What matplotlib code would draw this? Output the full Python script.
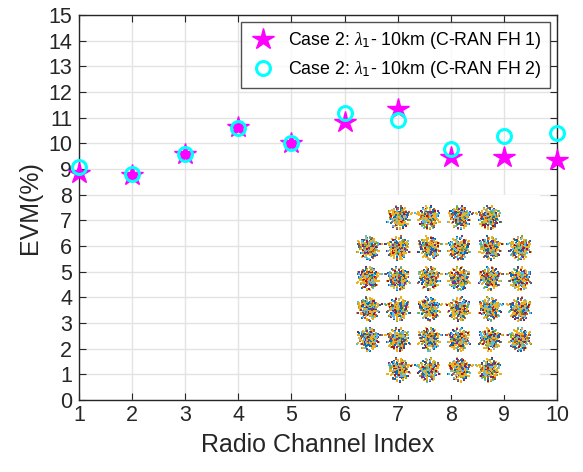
import matplotlib
matplotlib.use("Agg")
import matplotlib.pyplot as plt

plt.rcParams['font.family'] = ['Liberation Sans', 'DejaVu Sans']
plt.rcParams['mathtext.fontset'] = 'custom'
plt.rcParams['mathtext.it'] = 'Liberation Serif:italic'

# data
channels = [1, 2, 3, 4, 5, 6, 7, 8, 9, 10]
evm_fh1 = [8.85, 8.75, 9.6, 10.65, 10.0, 10.85, 11.33, 9.46, 9.48, 9.35]
evm_fh2 = [9.1, 8.8, 9.6, 10.6, 10.0, 11.2, 10.9, 9.8, 10.3, 10.4]
label_fh1 = r'Case 2: $\lambda_1$- 10km (C-RAN FH 1)'
label_fh2 = r'Case 2: $\lambda_1$- 10km (C-RAN FH 2)'

# 32-QAM cross constellation symbol levels
levels = [-5, -3, -1, 1, 3, 5]
# hand-placed scatter of received samples around a symbol
cloud_dx = [0.05, -0.32, 0.41, -0.12, 0.22, -0.48, 0.6, -0.05, 0.3, -0.62,
            0.12, -0.25, 0.5, -0.4, 0.02, 0.35, -0.18, 0.7, -0.7, 0.15,
            -0.08, 0.45, -0.55, 0.27, -0.35, 0.08, 0.58, -0.22, 0.38, -0.6,
            0.2, -0.1, 0.65, -0.45, 0.0, 0.33, -0.3, 0.52, -0.15, 0.1, 0.85]
cloud_dy = [0.1, 0.25, -0.3, -0.45, 0.52, -0.05, 0.18, 0.62, -0.6, 0.3,
            -0.2, -0.1, 0.42, 0.5, -0.35, 0.05, 0.36, -0.15, -0.25, 0.72,
            -0.68, -0.48, 0.12, 0.28, -0.55, 0.4, -0.4, 0.05, 0.6, 0.45,
            -0.05, -0.25, 0.35, -0.3, 0.2, -0.15, 0.55, 0.08, 0.75, -0.72, 0.3]
cloud_colors = ['#EDB120', '#0072BD', '#EDB120', '#4DBEEE', '#D95319',
                '#EDB120', '#7E2F8E', '#0072BD', '#77AC30', '#EDB120',
                '#A2142F', '#4DBEEE', '#EDB120']

fig = plt.figure(figsize=(5.83, 4.72), dpi=100)
ax = fig.add_axes([0.1355, 0.1525, 0.8199, 0.8155])

ax.plot(channels, evm_fh1, linestyle='none', marker='*', color='magenta',
        markersize=16, label=label_fh1, zorder=3, clip_on=False)
ax.plot(channels, evm_fh2, linestyle='none', marker='o', color='cyan',
        markerfacecolor='none', markeredgewidth=2.2, markersize=10,
        label=label_fh2, zorder=4, clip_on=False)

ax.set_xlim(1, 10)
ax.set_ylim(0, 15)
ax.set_xticks(range(1, 11))
ax.set_yticks(range(0, 16))
ax.tick_params(direction='in', top=True, right=True, labelsize=15.5,
               length=5, colors='#262626')
ax.tick_params(axis='y', pad=5)
ax.grid(True, color='#e3e3e3', linewidth=1)
ax.set_axisbelow(True)
for s in ax.spines.values():
    s.set_color('#262626')
    s.set_linewidth(1)
ax.set_xlabel('Radio Channel Index', fontsize=18, color='#262626', labelpad=5)
ax.set_ylabel('EVM(%)', fontsize=18, color='#262626', labelpad=4)

leg = ax.legend(loc='upper right', fontsize=12.8, frameon=True, fancybox=False,
                edgecolor='#262626', borderaxespad=0.4, handletextpad=0.6,
                borderpad=0.45, labelspacing=0.45, handlelength=1.6)
leg.get_frame().set_linewidth(1)

# constellation inset (white image patch over the grid)
ins = fig.add_axes([0.5935, 0.163, 0.333, 0.424])
ins.set_facecolor('white')
ins.set_xticks([])
ins.set_yticks([])
for s in ins.spines.values():
    s.set_visible(False)
k = 0
for iy in levels:
    for ix in levels:
        if abs(ix) == 5 and abs(iy) == 5:
            continue
        for rep, sc in enumerate([0.5, 0.8, 1.05, 0.65, 0.95, 0.35]):
            sgn = 1 if (k + rep) % 2 == 0 else -1
            for i in range(len(cloud_dx)):
                c = cloud_colors[(i * 3 + rep * 5 + k) % len(cloud_colors)]
                if rep % 2 == 0:
                    px, py = cloud_dx[i] * sgn, cloud_dy[i]
                else:
                    px, py = cloud_dy[i], -cloud_dx[i] * sgn
                ins.scatter(ix + sc * px, iy + sc * py, s=3.5, color=c,
                            marker='s', linewidths=0)
        k += 1
ins.set_xlim(-6.45, 6.32)
ins.set_ylim(-6.64, 6.51)

fig.savefig('out.png', dpi=100)
